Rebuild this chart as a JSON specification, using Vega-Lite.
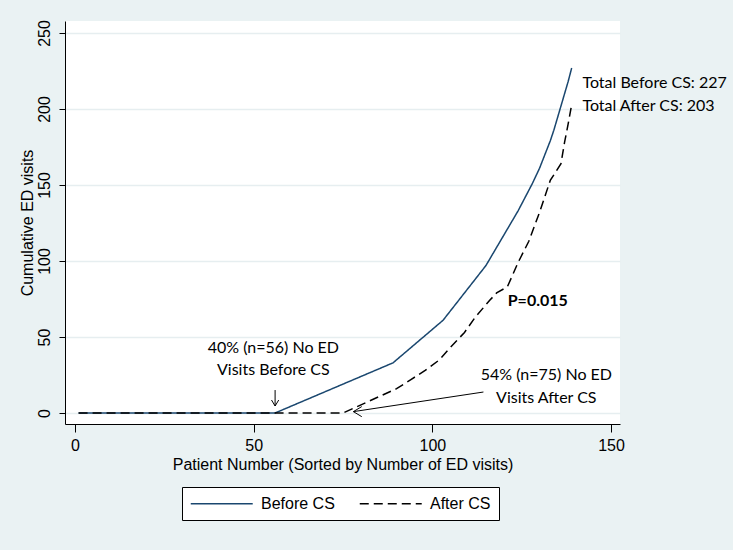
{
  "$schema": "https://vega.github.io/schema/vega-lite/v6.json",
  "width": 555,
  "height": 403,
  "autosize": {"type": "none"},
  "padding": {"left": 65, "top": 21, "right": 113, "bottom": 126},
  "background": "#EAF2F3",
  "config": {
    "view": {"fill": "white", "stroke": null},
    "font": "Liberation Sans",
    "axis": {
      "domainColor": "#000000",
      "tickColor": "#000000",
      "labelColor": "#000000",
      "titleColor": "#000000",
      "labelFont": "Liberation Sans",
      "titleFont": "Liberation Sans",
      "labelFontSize": 16,
      "titleFontSize": 16,
      "titleFontWeight": "normal"
    },
    "legend": {
      "orient": "none",
      "legendX": 117,
      "legendY": 466,
      "direction": "horizontal",
      "fillColor": "white",
      "strokeColor": "#000000",
      "padding": 8,
      "symbolType": "M -1 0 L 7 0",
      "symbolSize": 240,
      "symbolStrokeWidth": 1.5,
      "labelFont": "Liberation Sans",
      "labelFontSize": 16,
      "labelColor": "#000000",
      "labelOffset": 54,
      "columnPadding": 21
    }
  },
  "datasets": {
    "curves": [
      {"series": "Before CS", "patient": 1, "visits": 0},
      {"series": "Before CS", "patient": 56, "visits": 0},
      {"series": "Before CS", "patient": 89, "visits": 33},
      {"series": "Before CS", "patient": 96, "visits": 47},
      {"series": "Before CS", "patient": 103, "visits": 61},
      {"series": "Before CS", "patient": 106, "visits": 70},
      {"series": "Before CS", "patient": 109, "visits": 79},
      {"series": "Before CS", "patient": 112, "visits": 88},
      {"series": "Before CS", "patient": 115, "visits": 97},
      {"series": "Before CS", "patient": 118, "visits": 109},
      {"series": "Before CS", "patient": 121, "visits": 121},
      {"series": "Before CS", "patient": 124, "visits": 133},
      {"series": "Before CS", "patient": 126, "visits": 142},
      {"series": "Before CS", "patient": 128, "visits": 151},
      {"series": "Before CS", "patient": 129, "visits": 156},
      {"series": "Before CS", "patient": 130, "visits": 161},
      {"series": "Before CS", "patient": 131, "visits": 167},
      {"series": "Before CS", "patient": 132, "visits": 173},
      {"series": "Before CS", "patient": 133, "visits": 179},
      {"series": "Before CS", "patient": 134, "visits": 186},
      {"series": "Before CS", "patient": 135, "visits": 194},
      {"series": "Before CS", "patient": 136, "visits": 202},
      {"series": "Before CS", "patient": 137, "visits": 210},
      {"series": "Before CS", "patient": 138, "visits": 218},
      {"series": "Before CS", "patient": 139, "visits": 227},
      {"series": "After CS", "patient": 1, "visits": 0},
      {"series": "After CS", "patient": 75, "visits": 0},
      {"series": "After CS", "patient": 90, "visits": 16},
      {"series": "After CS", "patient": 94, "visits": 22},
      {"series": "After CS", "patient": 98, "visits": 28},
      {"series": "After CS", "patient": 102, "visits": 35},
      {"series": "After CS", "patient": 105, "visits": 43},
      {"series": "After CS", "patient": 109, "visits": 53},
      {"series": "After CS", "patient": 112, "visits": 63},
      {"series": "After CS", "patient": 116, "visits": 74},
      {"series": "After CS", "patient": 118, "visits": 79},
      {"series": "After CS", "patient": 121, "visits": 83},
      {"series": "After CS", "patient": 124, "visits": 99},
      {"series": "After CS", "patient": 127, "visits": 113},
      {"series": "After CS", "patient": 130, "visits": 132},
      {"series": "After CS", "patient": 133, "visits": 153},
      {"series": "After CS", "patient": 136, "visits": 164},
      {"series": "After CS", "patient": 137, "visits": 178},
      {"series": "After CS", "patient": 138, "visits": 190},
      {"series": "After CS", "patient": 139, "visits": 203}
    ],
    "notesCenter": [
      {"x": 55.5, "y": 42.8, "label": "40% (n=56) No ED"},
      {"x": 55.5, "y": 28.3, "label": "Visits Before CS"},
      {"x": 131.9, "y": 25, "label": "54% (n=75) No ED"},
      {"x": 131.9, "y": 9.9, "label": "Visits After CS"}
    ],
    "notesLeft": [
      {"x": 142, "y": 217, "label": "Total Before CS: 227"},
      {"x": 142, "y": 202, "label": "Total After CS: 203"}
    ],
    "pval": [{"x": 129.5, "y": 73.4, "label": "P=0.015"}],
    "arrows": [
      {"x": 114.3, "y": 13.8, "x2": 77.9, "y2": 0.9},
      {"x": 56, "y": 15.1, "x2": 56, "y2": 4.6}
    ],
    "headLeft": [{"x": 77.9, "y": 0.9}],
    "headDown": [{"x": 56, "y": 4.6}]
  },
  "layer": [
    {
      "data": {"name": "curves"},
      "transform": [{"filter": "datum.series === 'Before CS'"}],
      "mark": {"type": "line", "strokeWidth": 1.5},
      "encoding": {
        "x": {
          "field": "patient", "type": "quantitative",
          "scale": {"domain": [-2.8, 152.52], "nice": false, "zero": false},
          "axis": {"values": [0, 50, 100, 150], "grid": false, "tickSize": 8, "labelPadding": 5, "titlePadding": 3,
                   "title": "Patient Number (Sorted by Number of ED visits)"}
        },
        "y": {
          "field": "visits", "type": "quantitative",
          "scale": {"domain": [-7.24, 257.9], "nice": false, "zero": false},
          "axis": {"values": [0, 50, 100, 150, 200, 250], "grid": true, "gridColor": "#E6EEF0", "gridWidth": 1.5,
                   "tickSize": 6, "labelAngle": 270, "labelAlign": "center", "labelBaseline": "bottom",
                   "labelPadding": 7, "titlePadding": 1, "title": "Cumulative ED visits"}
        },
        "color": {"field": "series", "type": "nominal",
                  "scale": {"domain": ["Before CS", "After CS"], "range": ["#1a476f", "#000000"]},
                  "legend": {"title": null}},
        "strokeDash": {"field": "series", "type": "nominal",
                       "scale": {"domain": ["Before CS", "After CS"], "range": [[1, 0], [9, 5]]},
                       "legend": {"title": null}},
        "order": {"field": "patient", "type": "quantitative"}
      }
    },
    {
      "data": {"name": "curves"},
      "transform": [{"filter": "datum.series === 'After CS'"}],
      "mark": {"type": "line", "strokeWidth": 1.5},
      "encoding": {
        "x": {"field": "patient", "type": "quantitative"},
        "y": {"field": "visits", "type": "quantitative"},
        "color": {"field": "series", "type": "nominal", "legend": {"title": null}},
        "strokeDash": {"field": "series", "type": "nominal", "legend": {"title": null}},
        "order": {"field": "patient", "type": "quantitative"}
      }
    },
    {
      "data": {"name": "arrows"},
      "mark": {"type": "rule", "color": "#000000", "strokeWidth": 1},
      "encoding": {
        "x": {"field": "x", "type": "quantitative"},
        "y": {"field": "y", "type": "quantitative"},
        "x2": {"field": "x2"},
        "y2": {"field": "y2"}
      }
    },
    {
      "data": {"name": "headLeft"},
      "mark": {"type": "point", "shape": "M 1 -0.6 L 0 0 L 1 0.6", "size": 282, "filled": false, "stroke": "#000000", "strokeWidth": 1, "opacity": 1},
      "encoding": {
        "x": {"field": "x", "type": "quantitative"},
        "y": {"field": "y", "type": "quantitative"}
      }
    },
    {
      "data": {"name": "headDown"},
      "mark": {"type": "point", "shape": "M -0.6 -1 L 0 0 L 0.6 -1", "size": 144, "filled": false, "stroke": "#000000", "strokeWidth": 1, "opacity": 1},
      "encoding": {
        "x": {"field": "x", "type": "quantitative"},
        "y": {"field": "y", "type": "quantitative"}
      }
    },
    {
      "data": {"name": "notesCenter"},
      "mark": {"type": "text", "font": "Lato", "fontSize": 16, "align": "center", "baseline": "middle", "color": "#000000"},
      "encoding": {
        "x": {"field": "x", "type": "quantitative"},
        "y": {"field": "y", "type": "quantitative"},
        "text": {"field": "label"}
      }
    },
    {
      "data": {"name": "notesLeft"},
      "mark": {"type": "text", "font": "Lato", "fontSize": 16, "align": "left", "baseline": "middle", "color": "#000000"},
      "encoding": {
        "x": {"field": "x", "type": "quantitative"},
        "y": {"field": "y", "type": "quantitative"},
        "text": {"field": "label"}
      }
    },
    {
      "data": {"name": "pval"},
      "mark": {"type": "text", "font": "Lato", "fontSize": 16, "fontWeight": "bold", "align": "center", "baseline": "middle", "color": "#000000"},
      "encoding": {
        "x": {"field": "x", "type": "quantitative"},
        "y": {"field": "y", "type": "quantitative"},
        "text": {"field": "label"}
      }
    }
  ]
}
